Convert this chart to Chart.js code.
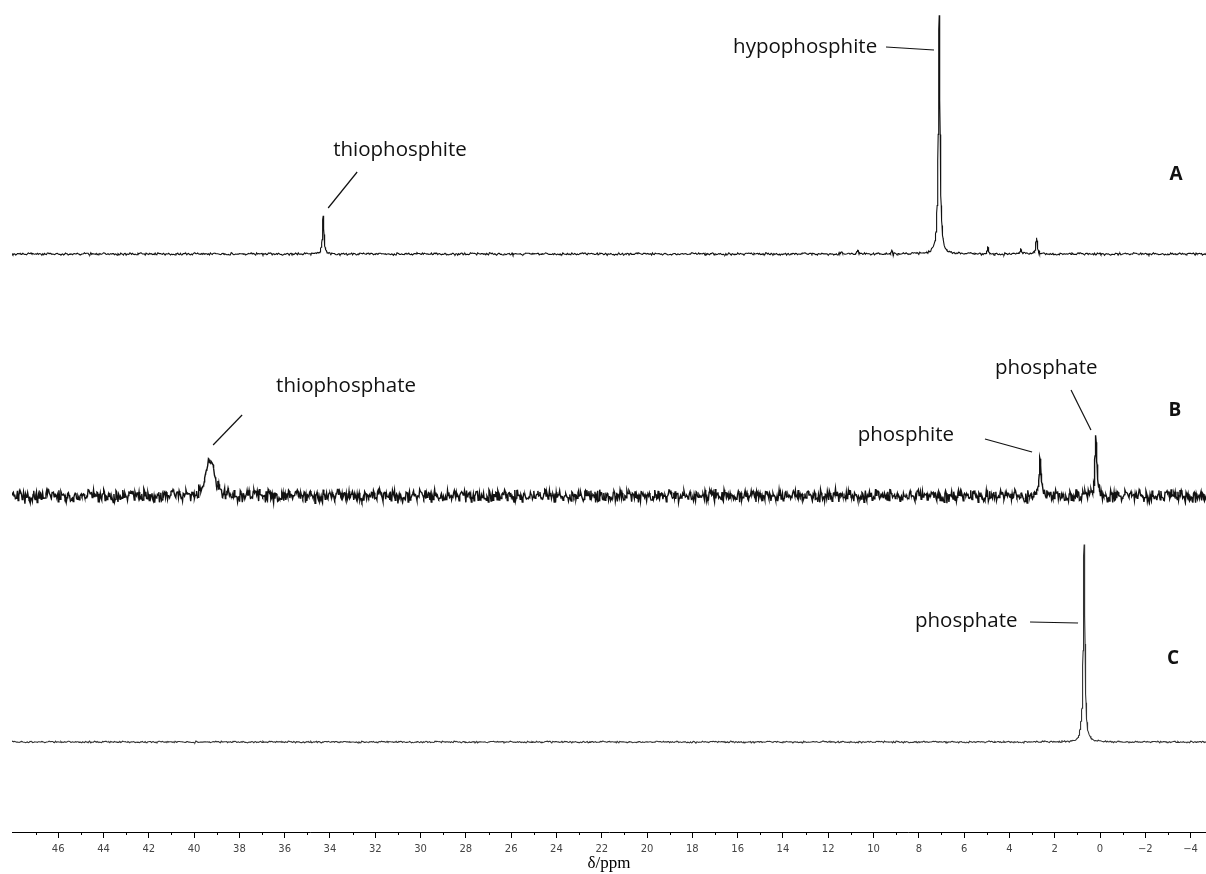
<!DOCTYPE html>
<html>
<head>
<meta charset="utf-8">
<script src="https://cdn.jsdelivr.net/npm/chart.js@4.4.1/dist/chart.umd.min.js"></script>
<style>
  html, body { margin: 0; padding: 0; background: #fff; }
</style>
</head>
<body>
<canvas id="nmr" width="1206" height="874"></canvas>
<script>
// Axis labels (ppm)
const tickLabels = [46, 44, 42, 40, 38, 36, 34, 32, 30, 28, 26, 24, 22, 20, 18, 16, 14, 12, 10, 8, 6, 4, 2, 0, -2, -4];

// Spectrum A: shift (ppm), height, half width (ppm)
const peakShiftA = [34.3, 11.4, 10.7, 9.2, 7.1, 4.95, 3.5, 2.8];
const peakHeightA = [37, 3, 3, 5, 240, 6, 6, 17];
const peakWidthA = [0.04, 0.03, 0.03, 0.03, 0.045, 0.03, 0.03, 0.04];

// Spectrum B
const peakShiftB = [39.3, 2.65, 0.18];
const peakHeightB = [37, 42, 61];
const peakWidthB = [0.2, 0.045, 0.045];

// Spectrum C
const peakShiftC = [0.85, 0.7];
const peakHeightC = [4, 197];
const peakWidthC = [0.03, 0.042];

// baseline noise samples
const noiseTable = [0.3, -0.8, 0.5, -0.2, 0.9, -0.6, 0.1, -0.9, 0.7, -0.4, 0.2, 0.8, -0.7, 0.4, -0.1,
  -0.5, 0.6, -0.3, 1.0, -0.9, 0.0, 0.5, -0.6, 0.3, -1.0, 0.7, -0.2, 0.4, -0.8, 0.9, -0.4, 0.1,
  0.6, -0.7, 0.2, -0.3, 0.8, -0.5, 0.0, 0.5, -0.9, 0.3, -0.1, 0.7, -0.6, 0.4, -0.2, 0.9, -0.8,
  0.1, 0.6, -0.4, 0.2, -0.7, 0.5, -0.1, 0.8, -0.3, 0.3, -0.5, 0.9];

const X_MIN = -4.68, X_MAX = 48.04;

function noiseAt(idx, offset) {
    const a = noiseTable[(idx * 7 + offset) % 61];
    const b = noiseTable[(idx * 3 + offset * 2) % 59];
    return 0.65 * a + 0.45 * b;
}

// Lorentzian lines on a noisy baseline
function buildTrace(shifts, heights, widths, base, noiseAmp, noiseOffset, step) {
    const xs = [];
    for (let i = 0; X_MAX - i * step >= X_MIN; i++) xs.push(X_MAX - i * step);
    shifts.forEach((s, i) => {
        for (let k = -16; k <= 16; k++) xs.push(s + k * widths[i] / 4);
    });
    xs.sort((a, b) => b - a);

    return xs.map((x) => {
        const idx = Math.round((X_MAX - x) / step);
        let y = base + noiseAmp * noiseAt(idx, noiseOffset);
        shifts.forEach((s, i) => {
            const d = (x - s) / widths[i];
            y += heights[i] / (1 + d * d);
        });
        return { x, y };
    });
}

// Peak labels with leader lines, in (ppm, y) units
const peakLabels = [
    { text: "thiophosphite", x: 33.86, y: 682, line: [34.08, 624, 32.80, 660] },
    { text: "hypophosphite", x: 16.20, y: 785, line: [9.45, 785, 7.33, 782] },
    { text: "thiophosphate", x: 36.38, y: 446, line: [39.16, 387, 37.88, 417] },
    { text: "phosphate", x: 4.64, y: 464, line: [1.28, 442, 0.40, 402] },
    { text: "phosphite", x: 10.7, y: 397, line: [5.08, 393, 3.00, 380] },
    { text: "phosphate", x: 8.17, y: 211, line: [3.09, 210, 0.97, 209] },
];
const panelTags = [
    { text: "A", x: -3.36, y: 657 },
    { text: "B", x: -3.31, y: 421 },
    { text: "C", x: -3.22, y: 173 },
];

const annotations = {
    id: "annotations",
    afterDatasetsDraw(chart) {
        const { ctx, scales: { x, y } } = chart;
        ctx.save();
        ctx.fillStyle = "#111";
        ctx.strokeStyle = "#111";
        ctx.lineWidth = 1.2;
        ctx.textBaseline = "middle";
        ctx.font = "20.5px 'Open Sans'";
        ctx.textAlign = "left";
        peakLabels.forEach((l) => {
            ctx.fillText(l.text, x.getPixelForValue(l.x), y.getPixelForValue(l.y));
            ctx.beginPath();
            ctx.moveTo(x.getPixelForValue(l.line[0]), y.getPixelForValue(l.line[1]));
            ctx.lineTo(x.getPixelForValue(l.line[2]), y.getPixelForValue(l.line[3]));
            ctx.stroke();
        });
        ctx.font = "bold 19px 'Open Sans'";
        ctx.textAlign = "center";
        panelTags.forEach((t) => {
            ctx.fillText(t.text, x.getPixelForValue(t.x), y.getPixelForValue(t.y));
        });
        ctx.restore();
    },
};

// short ticks at odd ppm values
const minorTicks = {
    id: "minorTicks",
    afterDraw(chart) {
        const { ctx, scales: { x }, chartArea } = chart;
        ctx.save();
        ctx.strokeStyle = "#000";
        ctx.lineWidth = 1;
        for (let v = 47; v >= -3; v -= 2) {
            const px = Math.round(x.getPixelForValue(v)) + 0.5;
            ctx.beginPath();
            ctx.moveTo(px, chartArea.bottom);
            ctx.lineTo(px, chartArea.bottom + 3);
            ctx.stroke();
        }
        ctx.restore();
    },
};

const lineStyle = { pointRadius: 0, tension: 0, fill: false };

new Chart(document.getElementById("nmr"), {
    type: "line",
    data: {
        datasets: [
            { ...lineStyle, label: "A", borderWidth: 1.1, borderColor: "#111", data: buildTrace(peakShiftA, peakHeightA, peakWidthA, 578, 1.3, 0, 0.04) },
            { ...lineStyle, label: "B", borderWidth: 1.4, borderColor: "#111", data: buildTrace(peakShiftB, peakHeightB, peakWidthB, 336, 7, 13, 0.03) },
            { ...lineStyle, label: "C", borderWidth: 1.1, borderColor: "#333", data: buildTrace(peakShiftC, peakHeightC, peakWidthC, 90, 0.9, 29, 0.04) },
        ],
    },
    options: {
        responsive: false,
        animation: false,
        events: [],
        layout: { padding: { left: 12, right: 0, top: 0, bottom: 2 } },
        plugins: { legend: { display: false }, tooltip: { enabled: false } },
        scales: {
            x: {
                type: "linear",
                reverse: true,
                min: X_MIN,
                max: X_MAX,
                afterBuildTicks: (scale) => {
                    scale.ticks = tickLabels.map((v) => ({ value: v }));
                },
                afterFit: (scale) => {
                    scale.height = 40;
                },
                grid: { drawOnChartArea: false, tickLength: 6, tickColor: "#000", lineWidth: 1 },
                border: { color: "#000", width: 1 },
                ticks: {
                    autoSkip: false,
                    maxRotation: 0,
                    padding: 5,
                    color: "#444",
                    font: { family: "DejaVu Sans", size: 10, lineHeight: 1.2 },
                    callback: (v) => (v < 0 ? "\u2212" + Math.abs(v) : String(v)),
                },
                title: {
                    display: true,
                    text: "δ/ppm",
                    color: "#000",
                    padding: 0,
                    font: { family: "Liberation Serif", size: 17, lineHeight: 1 },
                },
            },
            y: { display: false, min: 0, max: 832 },
        },
    },
    plugins: [annotations, minorTicks],
});
</script>
</body>
</html>
